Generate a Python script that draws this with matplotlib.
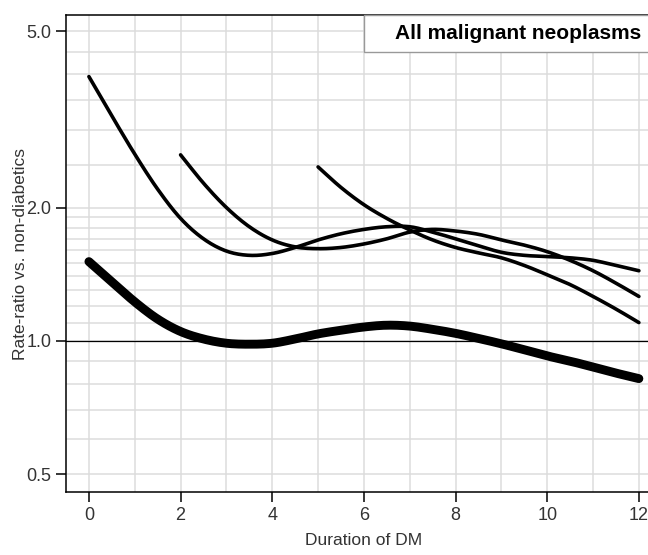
import numpy as np
import matplotlib
matplotlib.use("Agg")
import matplotlib.pyplot as plt
from matplotlib.patches import Rectangle

plt.rcParams['font.family'] = ['Liberation Sans', 'DejaVu Sans']

# thin curve starting at duration 0
a_x = [0, 0.5, 1, 1.5, 2, 2.5, 3, 3.5, 4, 4.5, 5, 5.5, 6, 6.5, 7, 7.5, 8, 8.5, 9, 9.5, 10, 10.5, 11, 11.5, 12]
a_y = [3.95, 3.22, 2.64, 2.20, 1.89, 1.70, 1.595, 1.56, 1.575, 1.625, 1.69, 1.745, 1.785, 1.81, 1.81,
       1.76, 1.70, 1.64, 1.585, 1.56, 1.55, 1.54, 1.52, 1.48, 1.44]

# thin curve starting at duration 2
b_x = [2, 2.5, 3, 3.5, 4, 4.5, 5, 5.5, 6, 6.5, 7, 7.5, 8, 8.5, 9, 9.5, 10, 10.5, 11, 11.5, 12]
b_y = [2.63, 2.27, 2.00, 1.81, 1.69, 1.63, 1.615, 1.625, 1.655, 1.70, 1.76, 1.785, 1.77, 1.74, 1.69,
       1.645, 1.59, 1.52, 1.44, 1.35, 1.26]

# thin curve starting at duration 5
c_x = [5, 5.5, 6, 6.5, 7, 7.5, 8, 8.5, 9, 9.5, 10, 10.5, 11, 11.5, 12]
c_y = [2.47, 2.22, 2.03, 1.89, 1.78, 1.69, 1.625, 1.58, 1.54, 1.48, 1.41, 1.34, 1.26, 1.18, 1.10]

# thick overall curve
d_x = [0, 0.5, 1, 1.5, 2, 2.5, 3, 3.5, 4, 4.5, 5, 5.5, 6, 6.5, 7, 7.5, 8, 8.5, 9, 9.5, 10, 10.5, 11, 11.5, 12]
d_y = [1.51, 1.36, 1.225, 1.12, 1.05, 1.01, 0.988, 0.983, 0.988, 1.01, 1.037, 1.057, 1.075, 1.085, 1.08,
       1.062, 1.04, 1.013, 0.985, 0.955, 0.925, 0.90, 0.873, 0.846, 0.822]

y_major = [0.5, 1.0, 2.0, 5.0]
y_labels = ["0.5", "1.0", "2.0", "5.0"]
y_minor = [0.6, 0.7, 0.8, 0.9, 1.1, 1.2, 1.3, 1.4, 1.5, 1.6, 1.7, 1.8, 1.9, 2.5, 3.0, 3.5, 4.0, 4.5]
x_major = [0, 2, 4, 6, 8, 10, 12]
x_minor = [1, 3, 5, 7, 9, 11]


def smooth(xs, ys, n=240):
    # cubic hermite (catmull-rom) through the log values
    xs = np.asarray(xs, float)
    ly = np.log(np.asarray(ys, float))
    xf = np.linspace(xs[0], xs[-1], n)
    out = []
    for xv in xf:
        i = min(np.searchsorted(xs, xv, side='right') - 1, len(xs) - 2)
        i0, i1, i2, i3 = max(i - 1, 0), i, i + 1, min(i + 2, len(xs) - 1)
        h = xs[i2] - xs[i1]
        t = (xv - xs[i1]) / h
        m1 = (ly[i2] - ly[i0]) / (xs[i2] - xs[i0]) * h
        m2 = (ly[i3] - ly[i1]) / (xs[i3] - xs[i1]) * h
        p = ((2*t**3 - 3*t**2 + 1) * ly[i1] + (t**3 - 2*t**2 + t) * m1
             + (-2*t**3 + 3*t**2) * ly[i2] + (t**3 - t**2) * m2)
        out.append(p)
    return xf, np.exp(out)


fig = plt.figure(figsize=(6.48, 5.55), dpi=100)
W, H = 648, 555
ax = fig.add_axes([66 / W, (H - 492) / H, 595.8 / W, 477 / H])

ax.set_yscale('log')
ax.set_xlim(-0.5, 12.5)
ax.set_ylim(0.456, 5.44)

ax.set_yticks(y_major)
ax.set_yticklabels(y_labels)
ax.set_yticks(y_minor, minor=True)
ax.set_xticks(x_major)
ax.set_xticks(x_minor, minor=True)
ax.yaxis.set_minor_formatter(matplotlib.ticker.NullFormatter())

ax.grid(True, which='both', color='#dcdcdc', lw=1.1)
ax.set_axisbelow(True)
ax.tick_params(which='major', length=7, width=1.1, color='black', labelsize=13, labelcolor='#333333')
ax.tick_params(which='minor', length=0)
ax.spines['right'].set_visible(False)
for s in ['left', 'bottom', 'top']:
    ax.spines[s].set_linewidth(1.1)

ax.axhline(1.0, color='black', lw=0.9, zorder=2)

for xs, ys in [(a_x, a_y), (b_x, b_y), (c_x, c_y)]:
    xf, yf = smooth(xs, ys)
    ax.plot(xf, yf, color='black', lw=2.6, solid_capstyle='round', zorder=3)
xf, yf = smooth(d_x, d_y)
ax.plot(xf, yf, color='black', lw=6.4, solid_capstyle='round', zorder=3)

ax.add_patch(Rectangle((0.5, 0.9224), 0.6, 0.0776, transform=ax.transAxes, facecolor='white',
                       edgecolor='#999999', lw=1, zorder=5, clip_on=False))
ax.text(0.759, 0.962, "All malignant neoplasms", transform=ax.transAxes, ha='center', va='center',
        fontsize=15, fontweight='bold', zorder=6)

ax.set_xlabel("Duration of DM", fontsize=12.5, color='#333333', labelpad=7)
ax.set_ylabel("Rate-ratio vs. non-diabetics", fontsize=12.5, color='#333333', labelpad=-1.5)

fig.savefig("out.png", dpi=100)
